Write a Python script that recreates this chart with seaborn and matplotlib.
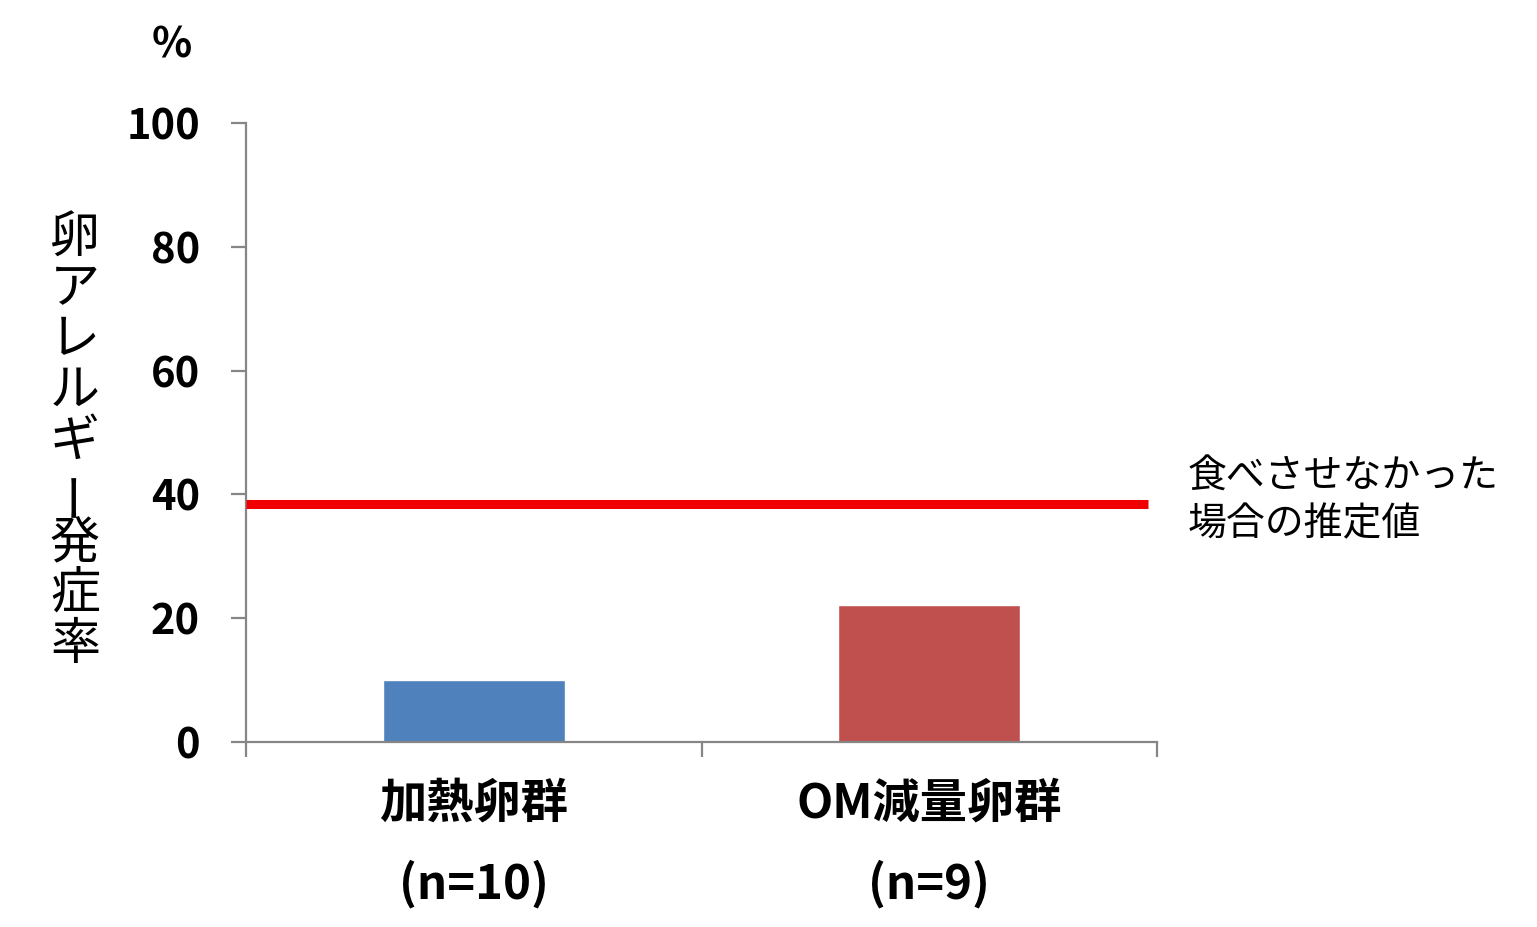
import matplotlib
matplotlib.use("Agg")
import matplotlib.pyplot as plt
import seaborn as sns
import pandas as pd

# dados do gráfico
grupos = ["加熱卵群", "OM減量卵群"]
n_grupos = ["(n=10)", "(n=9)"]
taxa = [10.0, 22.2]
linha_estimada = 38.5
rotulo_linha = "食べさせなかった\n場合の推定値"
rotulo_y = "卵アレルギー発症率"
cores = ["#4F81BD", "#C0504D"]

sns.set_theme(style="white")
plt.rcParams['font.family'] = ['Noto Sans CJK JP', 'DejaVu Sans']
plt.rcParams['text.color'] = "black"
plt.rcParams['ytick.labelcolor'] = "black"

df = pd.DataFrame({"grupo": grupos, "taxa": taxa})

fig = plt.figure(figsize=(15.37, 9.27), dpi=100)
ax = fig.add_axes([246 / 1537, 185 / 927, 911 / 1537, 619 / 927])

sns.barplot(data=df, x="grupo", y="taxa", hue="grupo", palette=cores,
            width=0.4, legend=False, ax=ax, saturation=1)

ax.axhline(linha_estimada, xmin=0, xmax=(1148 - 246) / 911, color="#F00000", lw=6.5,
           solid_capstyle="butt", zorder=5)

ax.set_xlim(-0.5, 1.5)
ax.set_ylim(0, 100)
ax.set_yticks([0, 20, 40, 60, 80, 100])
ax.set_xlabel("")
ax.set_ylabel("")

cinza = "#868686"
for lado in ["top", "right"]:
    ax.spines[lado].set_visible(False)
for lado in ["left", "bottom"]:
    ax.spines[lado].set_color(cinza)
    ax.spines[lado].set_linewidth(1.6)

ax.tick_params(axis="y", direction="out", length=11, width=1.6, color=cinza, left=True,
               labelsize=30, pad=22, labelcolor="black")
for t in ax.get_yticklabels():
    t.set_fontweight("bold")

ax.set_xticks([0, 1])
ax.set_xticklabels([])
ax.tick_params(axis="x", which="major", length=0)
ax.set_xticks([-0.5, 0.5, 1.5], minor=True)
ax.tick_params(axis="x", which="minor", direction="out", length=11, width=1.6, color=cinza, bottom=True)

# rótulos das categorias
for i, (g, n) in enumerate(zip(grupos, n_grupos)):
    ax.text(i, -0.1, g, transform=ax.get_xaxis_transform(), ha="center", va="center",
            fontsize=34, fontweight="bold")
    ax.text(i, -0.23, n, transform=ax.get_xaxis_transform(), ha="center", va="center",
            fontsize=34, fontweight="bold")

# rótulo da linha
ax.text(1.5 + 31 / 455.5, linha_estimada + 0.5, rotulo_linha, ha="left", va="center",
        fontsize=28, linespacing=1.25, clip_on=False)

fig.text(172 / 1537, 1 - 45 / 927, "%", ha="center", va="center", fontsize=30, fontweight="bold")

# eixo y escrito na vertical
for k, ch in enumerate(rotulo_y):
    y = 213 + 50.8 * (k + 0.5)
    rot = 90 if ch == "ー" else 0
    fig.text(75 / 1537, 1 - y / 927, ch, ha="center", va="center", fontsize=36, rotation=rot)

plt.savefig("out.png", dpi=100)
